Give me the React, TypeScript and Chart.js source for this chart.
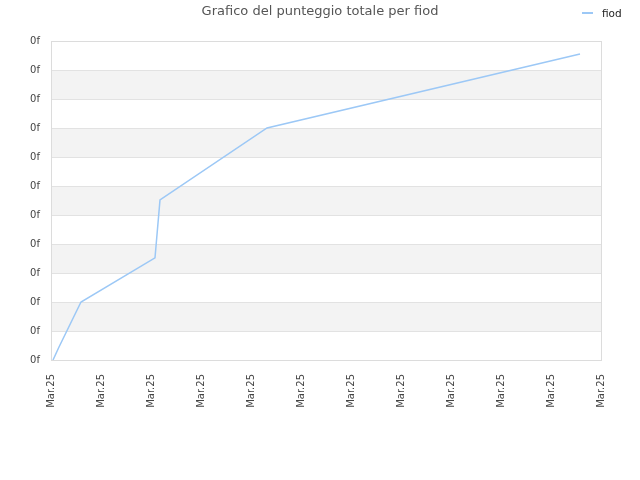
import { useEffect, useRef } from "react"
import { Chart, registerables } from "chart.js"

Chart.register(...registerables)

const seriesName = "fiod"
const xValues = [0.04, 0.16, 0.6, 2.08, 2.18, 4.32, 10.58]
const yValues = [0, 0.45, 2.0, 3.52, 5.52, 8.0, 10.55]
const xTickLabels = ["Mar.25", "Mar.25", "Mar.25", "Mar.25", "Mar.25", "Mar.25", "Mar.25", "Mar.25", "Mar.25", "Mar.25", "Mar.25", "Mar.25"]
const yTickLabels = ["0f", "0f", "0f", "0f", "0f", "0f", "0f", "0f", "0f", "0f", "0f", "0f"]

const FONT = "'DejaVu Sans', sans-serif"

// alternating horizontal bands + outline around the plot area
const bandsPlugin = {
  id: "bands",
  beforeDatasetsDraw(chart: any) {
    const { ctx, chartArea, scales } = chart
    const y = scales.y
    ctx.save()
    for (let i = 0; i < yTickLabels.length - 1; i++) {
      if (i % 2 === 0) continue
      const top = y.getPixelForValue(i + 1)
      const bottom = y.getPixelForValue(i)
      ctx.fillStyle = "#f3f3f3"
      ctx.fillRect(chartArea.left, top, chartArea.right - chartArea.left, bottom - top)
    }
    ctx.strokeStyle = "#e2e2e2"
    ctx.lineWidth = 1
    for (let i = 0; i < yTickLabels.length; i++) {
      const p = Math.round(y.getPixelForValue(i)) + 0.5
      ctx.beginPath()
      ctx.moveTo(chartArea.left, p)
      ctx.lineTo(chartArea.right, p)
      ctx.stroke()
    }
    ctx.strokeStyle = "#dcdcdc"
    ctx.strokeRect(
      Math.round(chartArea.left) + 0.5,
      Math.round(chartArea.top) + 0.5,
      Math.round(chartArea.right - chartArea.left),
      Math.round(chartArea.bottom - chartArea.top)
    )
    ctx.restore()
  },
}

export default function App() {
  const canvasRef = useRef<HTMLCanvasElement>(null)
  const chartInstance = useRef<Chart | null>(null)

  useEffect(() => {
    document.body.style.margin = "0"
    if (!canvasRef.current) return
    if (chartInstance.current) chartInstance.current.destroy()

    chartInstance.current = new Chart(canvasRef.current, {
      type: "line",
      data: {
        datasets: [
          {
            label: seriesName,
            data: xValues.map((x, i) => ({ x, y: yValues[i] })),
            borderColor: "#9cc8f6",
            borderWidth: 1.5,
            pointRadius: 0,
            tension: 0,
            fill: false,
          },
        ],
      },
      options: {
        animation: false,
        responsive: false,
        maintainAspectRatio: false,
        layout: { padding: 0 },
        scales: {
          x: {
            type: "linear",
            min: 0,
            max: xTickLabels.length - 1,
            grid: { display: false },
            border: { display: false },
            afterFit: (s: any) => {
              s.height = 120
            },
            ticks: {
              stepSize: 1,
              autoSkip: false,
              minRotation: 90,
              maxRotation: 90,
              padding: 6,
              color: "#444",
              font: { family: FONT, size: 10 },
              callback: (v: any) => xTickLabels[Math.round(Number(v))] ?? "",
            },
          },
          y: {
            min: 0,
            max: yTickLabels.length - 1,
            grid: { display: false },
            border: { display: false },
            afterFit: (s: any) => {
              s.width = 51
            },
            ticks: {
              stepSize: 1,
              autoSkip: false,
              padding: 3,
              color: "#444",
              font: { family: FONT, size: 10 },
              callback: (v: any) => yTickLabels[Math.round(Number(v))] ?? "",
            },
          },
          // empty right-hand axis, only reserves the right margin so the title stays centred
          yRight: {
            position: "right",
            min: 0,
            max: 1,
            grid: { display: false },
            border: { display: false },
            ticks: { display: false },
            afterFit: (s: any) => {
              s.width = 39
            },
          },
        },
        plugins: {
          legend: { display: false },
          tooltip: { enabled: false },
          title: {
            display: true,
            text: "Grafico del punteggio totale per fiod",
            color: "#555",
            font: { family: FONT, size: 13, weight: "normal" },
            padding: { top: 4, bottom: 21.4 },
          },
        },
      },
      plugins: [bandsPlugin],
    })

    return () => {
      if (chartInstance.current) {
        chartInstance.current.destroy()
        chartInstance.current = null
      }
    }
  }, [])

  return (
    <div style={{ position: "relative", width: 640, height: 480 }}>
      <canvas ref={canvasRef} width={640} height={480} aria-label="Grafico del punteggio totale per fiod" role="img"></canvas>
      <div
        style={{
          position: "absolute",
          left: 582,
          top: 7,
          display: "flex",
          alignItems: "center",
          fontFamily: FONT,
          fontSize: 10.5,
          color: "#222",
        }}
      >
        <span style={{ display: "inline-block", width: 11, height: 2, background: "#9cc8f6", marginRight: 9 }}></span>
        <span>{seriesName}</span>
      </div>
    </div>
  )
}
